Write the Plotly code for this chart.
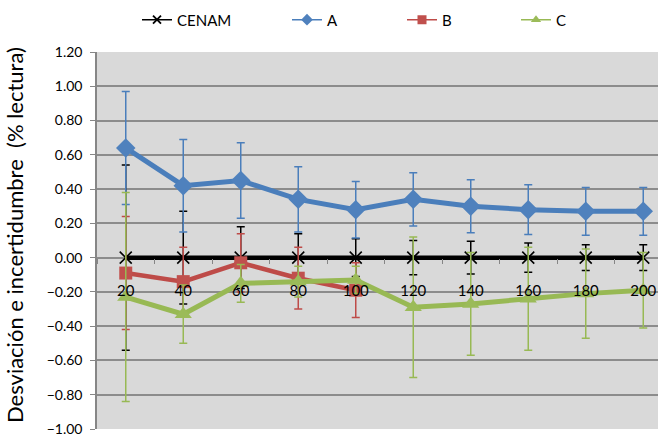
import plotly.graph_objects as go

cats = [20, 40, 60, 80, 100, 120, 140, 160, 180, 200]
cenam = [0, 0, 0, 0, 0, 0, 0, 0, 0, 0]
cenam_err = [0.54, 0.27, 0.18, 0.14, 0.11, 0.10, 0.095, 0.085, 0.075, 0.075]
a_vals = [0.64, 0.42, 0.45, 0.34, 0.28, 0.34, 0.30, 0.28, 0.27, 0.27]
a_err = [0.33, 0.27, 0.22, 0.19, 0.165, 0.155, 0.155, 0.145, 0.14, 0.14]
b_cats = [20, 40, 60, 80, 100]
b_vals = [-0.09, -0.14, -0.03, -0.12, -0.19]
b_err = [0.33, 0.20, 0.17, 0.18, 0.16]
c_vals = [-0.23, -0.33, -0.15, -0.14, -0.13, -0.29, -0.27, -0.24, -0.21, -0.19]
c_err = [0.61, 0.17, 0.11, 0.09, 0.08, 0.41, 0.30, 0.30, 0.26, 0.22]
y_ticks = [-1.0, -0.8, -0.6, -0.4, -0.2, 0.0, 0.2, 0.4, 0.6, 0.8, 1.0, 1.2]

BLACK = "#000000"
BLUE = "#4A7EBB"
BLUE_M = "#4F81BD"
RED = "#BE4B48"
RED_M = "#C0504D"
GREEN = "#98B954"
GREEN_M = "#9BBB59"
FONT = "Lato"

xs = [str(c) for c in cats]
bxs = [str(c) for c in b_cats]

fig = go.Figure()

series = [
    ("CENAM", xs, cenam, cenam_err, BLACK, BLACK, 4.5,
     dict(symbol="x-thin-open", size=12, color=BLACK, line=dict(color=BLACK, width=1.6)),
     dict(symbol="x-thin-open", size=8, color=BLACK, line=dict(color=BLACK, width=1.8)), "legend"),
    ("A", xs, a_vals, a_err, BLUE, BLUE_M, 5,
     dict(symbol="diamond", size=15, color=BLUE_M),
     dict(symbol="diamond", size=9, color=BLUE_M), "legend2"),
    ("B", bxs, b_vals, b_err, RED, RED_M, 4.5,
     dict(symbol="square", size=13, color=RED_M),
     dict(symbol="square", size=9, color=RED_M), "legend3"),
    ("C", xs, c_vals, c_err, GREEN, GREEN_M, 5,
     dict(symbol="triangle-up", size=15, color=GREEN_M),
     dict(symbol="triangle-up", size=9, color=GREEN_M), "legend4"),
]

for name, x, y, err, lc, mc, lw, mk, lmk, leg in series:
    fig.add_trace(go.Scatter(
        x=x, y=y, mode="lines+markers", name=name, showlegend=False,
        line=dict(color=lc, width=lw), marker=mk,
        error_y=dict(type="data", array=err, visible=True, color=lc, thickness=1.5, width=4),
    ))

for name, x, y, err, lc, mc, lw, mk, lmk, leg in series:
    fig.add_trace(go.Scatter(
        x=[None], y=[None], mode="lines+markers", name=name, showlegend=True,
        legend=leg, line=dict(color=lc, width=1.6), marker=lmk,
    ))

L, R = 97, 0
plot_w = 658 - L - R
slot = 57.5
x_right = -0.5 + plot_w / slot

leg_common = dict(orientation="h", yanchor="middle", y=1.085, xanchor="left",
                  bgcolor="rgba(0,0,0,0)", font=dict(family=FONT, size=15, color="#000000"),
                  itemwidth=30, borderwidth=0)

def lx(px):
    return (px - L) / plot_w

fig.update_layout(
    width=658, height=436,
    margin=dict(l=L, r=R, t=52, b=7, pad=0, autoexpand=False),
    paper_bgcolor="#FFFFFF",
    plot_bgcolor="#D9D9D9",
    font=dict(family=FONT, size=14, color="#000000"),
    legend=dict(leg_common, x=lx(137)),
    legend2=dict(leg_common, x=lx(287)),
    legend3=dict(leg_common, x=lx(402)),
    legend4=dict(leg_common, x=lx(516)),
    xaxis=dict(
        type="category", range=[-0.5, x_right], categoryorder="array", categoryarray=xs,
        anchor="free", position=1 / 2.2, showgrid=False, showline=False, automargin=False,
        ticks="outside", tickson="boundaries", ticklen=5, tickcolor="#868686", tickwidth=1,
        ticklabelstandoff=22, ticklabeloverflow="allow",
        tickfont=dict(family=FONT, size=15, color="#000000"),
    ),
    yaxis=dict(
        range=[-1.0, 1.2], tickvals=y_ticks, tickformat=".2f", automargin=False,
        showgrid=True, gridcolor="#8C8C8C", gridwidth=1.5, zeroline=False,
        showline=True, linecolor="#868686", linewidth=1.5,
        ticks="outside", ticklen=5, tickcolor="#868686", ticklabelstandoff=5,
        ticklabeloverflow="allow",
        tickfont=dict(family=FONT, size=14, color="#000000"),
    ),
    annotations=[dict(
        text="Desviación e incertidumbre  (% lectura)", textangle=-90,
        xref="paper", yref="paper", x=lx(14), y=(429 - 235) / 377,
        xanchor="center", yanchor="middle", showarrow=False,
        font=dict(family=FONT, size=22, color="#000000"),
    )],
)

fig.write_html(
    "out.html",
    config={"displayModeBar": False},
    post_script="document.body.style.margin='0px';document.body.style.overflow='hidden';",
)
